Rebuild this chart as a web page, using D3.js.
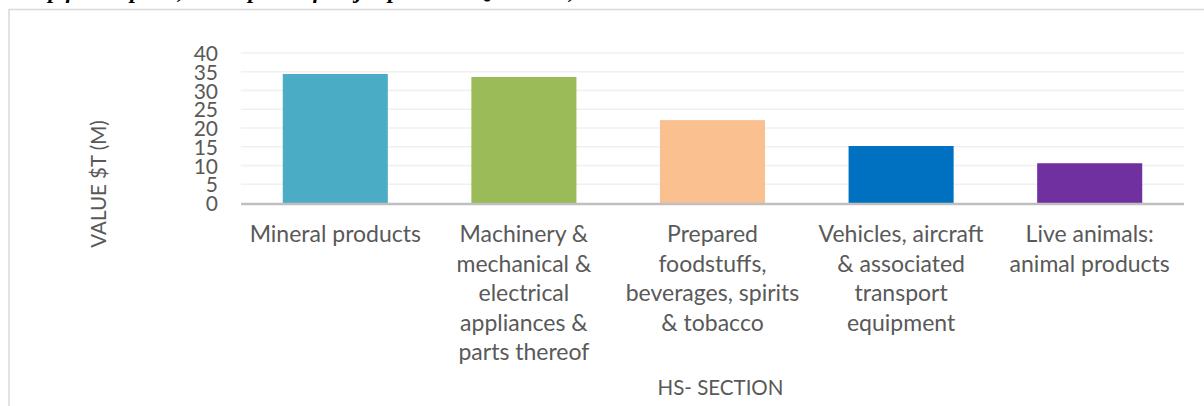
<!DOCTYPE html>
<html>
<head>
<meta charset="utf-8">
<script src="https://cdn.jsdelivr.net/npm/d3@7"></script>
<style>
  body { margin: 0; background: #fff; }
  svg text { font-family: Lato, "Open Sans", sans-serif; fill: #595959; }
</style>
</head>
<body>
<div id="chart"></div>
<script>
// data
const categories = [
    "Mineral products",
    "Machinery & mechanical & electrical appliances & parts thereof",
    "Prepared foodstuffs, beverages, spirits & tobacco",
    "Vehicles, aircraft & associated transport equipment",
    "Live animals: animal products"
];
// how each category label is broken into lines under the axis
const labelLines = [
    ["Mineral products"],
    ["Machinery &", "mechanical &", "electrical", "appliances &", "parts thereof"],
    ["Prepared", "foodstuffs,", "beverages, spirits", "& tobacco"],
    ["Vehicles, aircraft", "& associated", "transport", "equipment"],
    ["Live animals:", "animal products"]
];
const values = [34.4, 33.6, 22.1, 15.2, 10.6];
const barColors = ["#4BACC6", "#9BBB59", "#FAC090", "#0070C0", "#7030A0"];
const yTicks = [0, 5, 10, 15, 20, 25, 30, 35, 40];
const titleText = "Top five imports, the imports of major products Quarter 1, 2023";
const yTitle = "VALUE $T (M)";
const xTitle = "HS- SECTION";

const W = 1204, H = 406;
const plot = {left: 241, right: 1184, top: 53, bottom: 203};

const svg = d3.select("#chart").append("svg")
    .attr("width", W)
    .attr("height", H);

// title, mostly cut off by the top of the picture
svg.append("text")
    .attr("x", 25)
    .attr("y", -2.5)
    .style("font-family", "'Liberation Serif', 'Times New Roman', serif")
    .style("font-weight", "bold")
    .style("font-style", "italic")
    .style("font-size", "23px")
    .style("fill", "#000")
    .text(titleText);

// chart frame
svg.append("rect")
    .attr("x", 9)
    .attr("y", 9.5)
    .attr("width", W + 20)
    .attr("height", H + 20)
    .attr("fill", "none")
    .attr("stroke", "#d9d9d9")
    .attr("stroke-width", 1.5);

const x = d3.scaleBand()
    .domain(categories)
    .range([plot.left, plot.right])
    .paddingInner(0.443)
    .paddingOuter(0.2215);

const y = d3.scaleLinear()
    .domain([0, 40])
    .range([plot.bottom, plot.top]);

// gridlines
svg.append("g")
    .selectAll("line")
    .data(yTicks.slice(1))
    .join("line")
    .attr("x1", plot.left)
    .attr("x2", plot.right)
    .attr("y1", (d) => y(d))
    .attr("y2", (d) => y(d))
    .attr("stroke", "#f0f0f0")
    .attr("stroke-width", 1.3);

// y axis labels
const yAxis = svg.append("g")
    .attr("transform", "translate(" + plot.left + ",0)")
    .call(d3.axisLeft(y).tickValues(yTicks).tickSize(0).tickPadding(23));
yAxis.select(".domain").remove();
yAxis.selectAll("text")
    .attr("dy", "0.36em")
    .style("font-size", "21px")
    .style("fill", "#595959");

// bars
svg.append("g")
    .selectAll("rect")
    .data(values)
    .join("rect")
    .attr("x", (d, i) => x(categories[i]))
    .attr("y", (d) => y(d))
    .attr("width", x.bandwidth())
    .attr("height", (d) => y(0) - y(d))
    .attr("fill", (d, i) => barColors[i]);

// x axis base line
svg.append("line")
    .attr("x1", plot.left)
    .attr("x2", plot.right)
    .attr("y1", y(0) + 1)
    .attr("y2", y(0) + 1)
    .attr("stroke", "#bfbfbf")
    .attr("stroke-width", 2.5);

// category labels
const lab = svg.append("g")
    .selectAll("text")
    .data(categories)
    .join("text")
    .attr("text-anchor", "middle")
    .attr("x", (d) => x(d) + x.bandwidth() / 2)
    .attr("y", 242)
    .style("font-size", "23px");
lab.selectAll("tspan")
    .data((d, i) => labelLines[i])
    .join("tspan")
    .attr("x", function () { return this.parentNode.getAttribute("x"); })
    .attr("dy", (d, i) => i === 0 ? 0 : 29.6)
    .text((d) => d);

// axis titles
svg.append("text")
    .attr("transform", "translate(106,184) rotate(-90)")
    .attr("text-anchor", "middle")
    .style("font-size", "20.5px")
    .text(yTitle);

svg.append("text")
    .attr("x", (plot.left + plot.right) / 2 + 8)
    .attr("y", 395)
    .attr("text-anchor", "middle")
    .style("font-size", "20.5px")
    .text(xTitle);
</script>
</body>
</html>
